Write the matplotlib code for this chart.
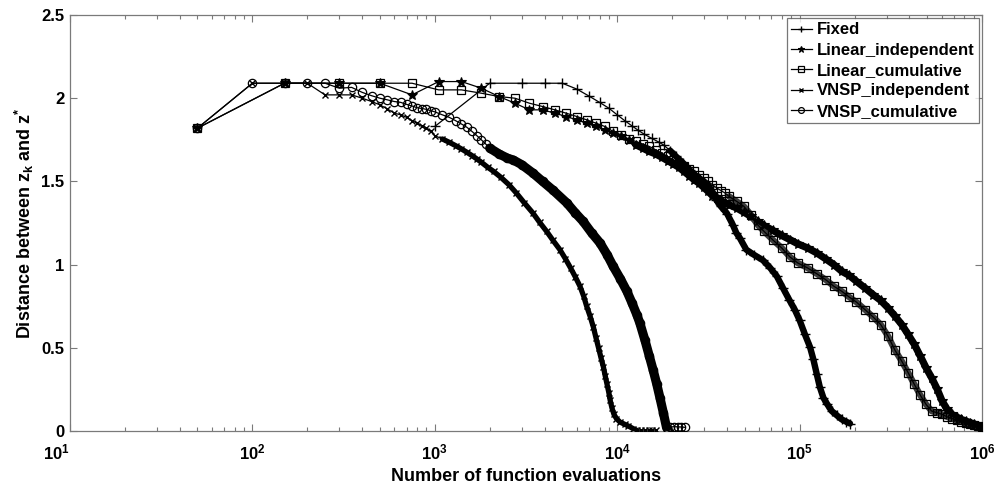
import matplotlib
matplotlib.use('Agg')
import matplotlib.pyplot as plt
import matplotlib.transforms as mtransforms
from matplotlib.ticker import FixedLocator, LogLocator, NullFormatter

plt.rcParams['font.family'] = ['Liberation Sans', 'DejaVu Sans']
plt.rcParams['font.weight'] = 'bold'
plt.rcParams['mathtext.fontset'] = 'custom'
plt.rcParams['mathtext.rm'] = 'Liberation Sans:bold'
plt.rcParams['mathtext.bf'] = 'Liberation Sans:bold'
plt.rcParams['mathtext.it'] = 'Liberation Sans:bold'

# ---------------- data ----------------
series_names = ['Fixed', 'Linear_independent', 'Linear_cumulative',
                'VNSP_independent', 'VNSP_cumulative']

fixed_x = [1000, 2000, 3000, 4000, 5000, 6000, 7000, 8000, 9000, 10000, 11000,
           12000, 13000, 14000, 15500, 17000, 18000, 19500, 21000, 23000, 25000,
           28000, 30000, 32000, 34000, 35000, 37000, 40000, 43000, 45000, 47000,
           51000, 56000, 63000, 69000, 75000, 81000, 88000, 94000, 100000,
           107000, 114000, 119000, 124000, 129000, 135000, 141000, 150000,
           160000, 170000, 180000, 189000]
fixed_y = [1.83, 2.09, 2.09, 2.09, 2.09, 2.055, 2.013, 1.975, 1.94, 1.90, 1.865,
           1.835, 1.808, 1.785, 1.758, 1.735, 1.718, 1.685, 1.65, 1.61, 1.568,
           1.518, 1.495, 1.467, 1.42, 1.387, 1.35, 1.307, 1.24, 1.19, 1.16,
           1.09, 1.06, 1.026, 0.98, 0.93, 0.86, 0.786, 0.73, 0.666,
           0.58, 0.505, 0.43, 0.345, 0.265, 0.20, 0.165, 0.12,
           0.094, 0.07, 0.056, 0.045]

linear_x = [50, 150, 300, 500, 750, 1050, 1400, 1800, 2250, 2750, 3300, 3900,
            4550, 5250, 6000, 6800, 7650, 8550, 9500, 10500, 11550, 12650,
            13800, 15000, 16250, 17550, 18900, 20300, 21750, 23250, 24800,
            26400, 28050, 29750, 31500, 33300, 35150, 37050, 39000, 41000,
            45150, 49500, 54050, 58800, 63750, 71550, 79800, 88500, 97650,
            110550, 124250, 138750, 154050, 170150, 187050, 204750, 228000,
            252500, 278250, 305250, 333500, 363000, 393750, 425750, 459000,
            493500, 529250, 566250, 604500, 644000, 684750, 726750, 770000,
            814500, 860250, 907250, 955500, 995000]
linear_ind_y = [1.82, 2.09, 2.09, 2.09, 2.02, 2.10, 2.10, 2.06, 2.01, 1.97, 1.93,
                1.93, 1.91, 1.89, 1.87, 1.85, 1.83, 1.81, 1.79, 1.77, 1.75, 1.72,
                1.70, 1.68, 1.665, 1.645, 1.625, 1.605, 1.585, 1.56, 1.535,
                1.51, 1.49, 1.465, 1.44, 1.415, 1.40, 1.385, 1.37, 1.36,
                1.34, 1.315, 1.29, 1.26, 1.235, 1.205, 1.175, 1.15, 1.125,
                1.10, 1.07, 1.035, 1.00, 0.96, 0.935, 0.90, 0.86,
                0.82, 0.785, 0.74, 0.69, 0.64, 0.58, 0.52, 0.45,
                0.38, 0.32, 0.255, 0.18, 0.13, 0.10, 0.084, 0.07,
                0.06, 0.05, 0.042, 0.032, 0.024]
linear_cum_y = [1.82, 2.09, 2.09, 2.09, 2.09, 2.05, 2.05, 2.03, 2.01, 2.0, 1.97,
                1.95, 1.93, 1.91, 1.89, 1.87, 1.85, 1.83, 1.80, 1.78, 1.755, 1.74,
                1.725, 1.71, 1.69, 1.67, 1.65, 1.63, 1.61, 1.59, 1.575,
                1.56, 1.54, 1.52, 1.50, 1.48, 1.46, 1.445, 1.43, 1.41,
                1.38, 1.35, 1.30, 1.24, 1.20, 1.147, 1.10, 1.046, 1.01,
                0.98, 0.945, 0.91, 0.87, 0.84, 0.805, 0.775, 0.73,
                0.686, 0.64, 0.57, 0.485, 0.42, 0.35, 0.28, 0.215,
                0.16, 0.12, 0.11, 0.10, 0.085, 0.075, 0.064, 0.055,
                0.047, 0.04, 0.034, 0.028, 0.024]

vnsp_ind_x = [50, 100, 150, 200, 250, 300, 350, 400, 450, 500, 550, 600, 650,
              700, 750, 800, 850, 900, 950, 1000, 1100, 1200, 1300, 1400, 1500,
              1600, 1700, 1800, 1950, 2100, 2300, 2550, 2800, 3100, 3450, 3750,
              4100, 4450, 4850, 5200, 5550, 5900, 6250, 6550, 6800, 7100, 7400,
              7650, 7900, 8150, 8400, 8600, 8800, 9000, 9150, 9350, 9600, 9900,
              10350, 11000, 11500, 12200, 12800, 13500, 14200, 14900, 15600,
              16400]
vnsp_ind_y = [1.82, 2.09, 2.09, 2.09, 2.02, 2.02, 2.02, 2.0, 1.98, 1.96, 1.935,
              1.91, 1.90, 1.885, 1.865, 1.85, 1.835, 1.82, 1.80, 1.775, 1.755,
              1.735, 1.715, 1.695, 1.675, 1.655, 1.635, 1.615, 1.585, 1.56,
              1.525, 1.48, 1.43, 1.37, 1.31, 1.255, 1.20, 1.145, 1.09, 1.035,
              0.98, 0.925, 0.87, 0.81, 0.75, 0.69, 0.625, 0.56, 0.50, 0.44,
              0.385, 0.33, 0.28, 0.23, 0.185, 0.14, 0.10, 0.075, 0.054, 0.04,
              0.03, 0.015, 0.004, 0.005, 0.005, 0.005, 0.005, 0.005]

vnsp_cum_x = [50, 100, 150, 200, 250, 300, 350, 400, 450, 500, 550, 600, 650,
              700, 750, 800, 850, 900, 950, 1000, 1100, 1200, 1300, 1400, 1500,
              1600, 1700, 1800, 1900, 2000, 2250, 2500, 2700, 3000, 3450, 3900,
              4450, 5300, 5900, 6500, 7250, 8050, 8800, 9500, 10400, 11300,
              12050, 12800, 13300, 14200, 15000, 15750, 16450, 17150, 17900,
              18650, 19000, 19500, 20500, 21500, 22500, 23500]
vnsp_cum_y = [1.82, 2.09, 2.09, 2.09, 2.09, 2.06, 2.065, 2.035, 2.015, 2.0,
              1.99, 1.98, 1.975, 1.963, 1.953, 1.943, 1.938, 1.933, 1.925, 1.918,
              1.90, 1.885, 1.865, 1.845, 1.825, 1.80, 1.775, 1.75, 1.725, 1.70,
              1.665, 1.64, 1.628, 1.60, 1.55, 1.50, 1.447, 1.37, 1.31, 1.26,
              1.19, 1.13, 1.06, 0.99, 0.915, 0.84, 0.77, 0.70, 0.65, 0.545,
              0.45, 0.365, 0.285, 0.20, 0.11, 0.02, 0.0, 0.024, 0.026, 0.025,
              0.024, 0.022]

x_ticks = [1e1, 1e2, 1e3, 1e4, 1e5, 1e6]
x_ticklabels = [r'$\mathbf{10^{1}}$', r'$\mathbf{10^{2}}$', r'$\mathbf{10^{3}}$',
                r'$\mathbf{10^{4}}$', r'$\mathbf{10^{5}}$', r'$\mathbf{10^{6}}$']
y_ticks = [0, 0.5, 1, 1.5, 2, 2.5]
y_ticklabels = ['0', '0.5', '1', '1.5', '2', '2.5']

# ---------------- figure ----------------
fig = plt.figure(figsize=(9.95, 4.87), dpi=100)
ax = fig.add_axes([70 / 995, 1 - 431 / 487, (982 - 70) / 995, (431 - 15) / 487])

lw = 0.9
k = 'black'

def dense(xs, ys, xmin, xmax=None):
    pts = [(x, y) for x, y in zip(xs, ys)
           if x >= xmin and (xmax is None or x <= xmax)]
    return [p[0] for p in pts], [p[1] for p in pts]

# thick underlays where the original markers overlap into a solid band
bx, by = dense(fixed_x, fixed_y, 19000)
ax.plot(bx, by, color=k, lw=4.6, solid_capstyle='round', zorder=2)
bx, by = dense(linear_x, linear_ind_y, 12000)
ax.plot(bx, by, color=k, lw=5.2, solid_capstyle='round', zorder=2)
bx, by = dense(linear_x, linear_cum_y, 40000)
ax.plot(bx, by, color='#3c3c3c', lw=4.6, solid_capstyle='round', zorder=2)
bx, by = dense(vnsp_ind_x, vnsp_ind_y, 1100, 13000)
ax.plot(bx, by, color=k, lw=3.8, solid_capstyle='round', zorder=2)
bx, by = dense(vnsp_cum_x, vnsp_cum_y, 1950, 18700)
ax.plot(bx, by, color=k, lw=6.6, solid_capstyle='round', zorder=2)

ax.plot(fixed_x, fixed_y, color=k, lw=lw, marker='+', ms=7, mew=1.0,
        label=series_names[0], zorder=3)
ax.plot(linear_x, linear_ind_y, color=k, lw=lw, marker='*', ms=7, mew=0.8,
        mfc=k, label=series_names[1], zorder=3)
ax.plot(linear_x, linear_cum_y, color=k, lw=lw, marker='s', ms=6, mew=0.9,
        mfc='none', label=series_names[2], zorder=3)
ax.plot(vnsp_ind_x, vnsp_ind_y, color=k, lw=lw, marker='x', ms=5, mew=1.0,
        label=series_names[3], zorder=3)
ax.plot(vnsp_cum_x, vnsp_cum_y, color=k, lw=lw, marker='o', ms=6, mew=0.9,
        mfc='none', label=series_names[4], zorder=3)

ax.set_xscale('log')
ax.set_xlim(10, 1e6)
ax.set_ylim(0, 2.5)
ax.xaxis.set_major_locator(FixedLocator(x_ticks))
ax.set_xticklabels(x_ticklabels)
ax.xaxis.set_minor_locator(LogLocator(base=10, subs=range(2, 10)))
ax.xaxis.set_minor_formatter(NullFormatter())
ax.set_yticks(y_ticks)
ax.set_yticklabels(y_ticklabels)

axcol = '#7a7a7a'
for sp in ax.spines.values():
    sp.set_color(axcol)
    sp.set_linewidth(0.9)
ax.tick_params(which='both', direction='in', top=True, right=True,
               color=axcol, labelcolor='black')
ax.tick_params(axis='y', labelsize=12, pad=4)
ax.tick_params(axis='x', labelsize=12, pad=8)
ax.tick_params(which='major', length=5, width=0.8)
ax.tick_params(which='minor', length=3, width=0.8)

first_shift = mtransforms.ScaledTranslation(-14 / 100, 0, fig.dpi_scale_trans)
xl = ax.get_xticklabels()
xl[0].set_transform(xl[0].get_transform() + first_shift)

ax.set_xlabel('Number of function evaluations', fontsize=13,
              fontweight='bold', labelpad=4)
ax.set_ylabel(r'Distance between z$_{\mathbf{k}}$ and z$^{\mathbf{*}}$',
              fontsize=13, fontweight='bold', labelpad=4)

leg = ax.legend(loc='upper right', fontsize=12, frameon=True, fancybox=False,
                edgecolor='#555555', borderpad=0.25, labelspacing=0.32,
                handlelength=1.25, handletextpad=0.3, borderaxespad=0.2,
                markerscale=0.7)
leg.get_frame().set_linewidth(0.9)
for t in leg.get_texts():
    t.set_fontweight('bold')

fig.savefig('out.png', dpi=100)
